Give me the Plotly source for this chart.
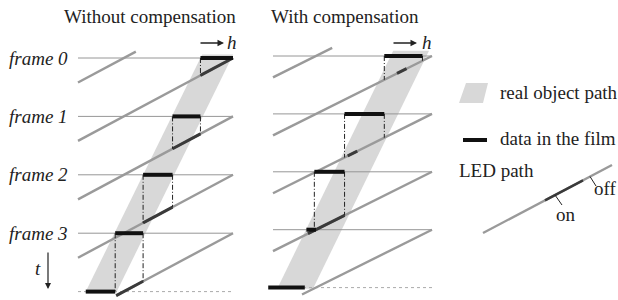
import plotly.graph_objects as go

W, H = 618, 300
SERIF = "Liberation Serif, Times New Roman, serif"

# ---------------- data ----------------
frame_times = [0, 1, 2, 3]
frame_labels = ["frame 0", "frame 1", "frame 2", "frame 3"]
bottom_time = 4
diag_ids = [-1, 0, 1, 2, 3]          # LED path sweeps start at (h=1, t=k)

panel_titles = ["Without compensation", "With compensation"]

# Left panel (without compensation), h in [0,1]
left_bar_start = [0.79, 0.61, 0.42, 0.24, 0.05]
left_bar_end = [1.00, 0.79, 0.61, 0.42, 0.24]
left_diag_drop = 1.42                 # frames travelled over one sweep
left_band_edge = [0.79, 0.05]         # band left edge at t=0 and t=4
left_band_width = 0.20
left_on_start = [0.79, 0.61, 0.42, 0.24]
left_on_end = [1.00, 0.79, 0.61, 0.42]

# Right panel (with compensation)
right_bar_start = [0.70, 0.45, 0.26, 0.21, -0.03]
right_bar_end = [0.94, 0.70, 0.45, 0.27, 0.20]
right_vert_frames = [0, 1, 2]
right_diag_drop = 1.37
right_band_edge = [0.74, 0.03]
right_band_width = 0.225
right_on_start = [0.78, 0.47, 0.22]
right_on_end = [0.84, 0.53, 0.45]

legend_labels = ["real object path", "data in the film", "LED path", "on", "off"]

# ---------------- helpers ----------------
def px(x):
    return x / W

def py(y):
    return 1 - y / H

def diag_t(k, h, drop):
    return k + drop * (1 - h)

fig = go.Figure()

GRAY_LINE = "#969696"
DIAG = "#9a9a9a"
BAND = "#d8d8d8"
DARK = "#3a3a3a"
TXT = "#222222"

def add_panel(xa, ya, bar_s, bar_e, drop, band_edge, band_w, on_s, on_e,
              vert_frames, tmin, tmax):
    # band (real object path)
    t0, t1 = tmin + 0.05, 4.02
    def edge(t):
        return band_edge[0] + (band_edge[1] - band_edge[0]) * t / 4.0
    bx = [edge(t0), edge(t0) + band_w, edge(t1) + band_w, edge(t1), edge(t0)]
    by = [t0, t0, t1, t1, t0]
    fig.add_trace(go.Scatter(x=bx, y=by, xaxis=xa, yaxis=ya, mode="lines",
                             fill="toself", fillcolor=BAND, line=dict(width=0),
                             hoverinfo="skip", showlegend=False))
    # frame lines
    for t in frame_times:
        fig.add_trace(go.Scatter(x=[0, 1], y=[t, t], xaxis=xa, yaxis=ya, mode="lines",
                                 line=dict(color=GRAY_LINE, width=1),
                                 hoverinfo="skip", showlegend=False))
    fig.add_trace(go.Scatter(x=[0, 1], y=[bottom_time, bottom_time], xaxis=xa, yaxis=ya,
                             mode="lines", line=dict(color="#aaaaaa", width=1, dash="dot"),
                             hoverinfo="skip", showlegend=False))
    # LED path sweeps
    for k in diag_ids:
        h_hi = min(1.0, 1 - (tmin - k) / drop)
        h_lo = max(0.0, 1 - (tmax - k) / drop)
        fig.add_trace(go.Scatter(x=[h_lo, h_hi], y=[diag_t(k, h_lo, drop), diag_t(k, h_hi, drop)],
                                 xaxis=xa, yaxis=ya, mode="lines",
                                 line=dict(color=DIAG, width=2.4),
                                 hoverinfo="skip", showlegend=False))
    # LED "on" parts (dark)
    for k, (s, e) in enumerate(zip(on_s, on_e)):
        s2 = max(s, 1 - (tmax - k) / drop)
        fig.add_trace(go.Scatter(x=[s2, e], y=[diag_t(k, s2, drop), diag_t(k, e, drop)],
                                 xaxis=xa, yaxis=ya, mode="lines",
                                 line=dict(color=DARK, width=3),
                                 hoverinfo="skip", showlegend=False))
    # dash-dot verticals
    for k in vert_frames:
        for h in (bar_s[k], bar_e[k]):
            tb = min(diag_t(k, h, drop), 4.0)
            fig.add_trace(go.Scatter(x=[h, h], y=[k, tb], xaxis=xa, yaxis=ya, mode="lines",
                                     line=dict(color="#222222", width=1, dash="5px,2px,1px,2px"),
                                     hoverinfo="skip", showlegend=False))
    # data bars
    for k in range(5):
        fig.add_trace(go.Scatter(x=[bar_s[k], bar_e[k]], y=[k, k], xaxis=xa, yaxis=ya,
                                 mode="lines", line=dict(color="#111111", width=4),
                                 hoverinfo="skip", showlegend=False))

add_panel("x", "y", left_bar_start, left_bar_end, left_diag_drop, left_band_edge,
          left_band_width, left_on_start, left_on_end, [0, 1, 2, 3], -0.11, 4.07)
add_panel("x2", "y2", right_bar_start, right_bar_end, right_diag_drop, right_band_edge,
          right_band_width, right_on_start, right_on_end, right_vert_frames, -0.14, 4.12)

# ---------------- annotations ----------------
def text(x, y, s, xanchor="center", italic=False, yref="paper"):
    return dict(x=px(x), y=(py(y) if yref == "paper" else y), xref="paper", yref=yref,
                text=("<i>" + s + "</i>") if italic else s, showarrow=False,
                xanchor=xanchor, yanchor="middle",
                font=dict(family=SERIF, size=19, color=TXT))

ann = []
ann.append(text(150, 16, panel_titles[0]))
ann.append(text(345, 16, panel_titles[1]))
for t, lab in zip(frame_times, frame_labels):
    ann.append(text(70, t, lab, xanchor="right", italic=True, yref="y"))
# h arrows
for x_head, x_h in ((224, 232), (417, 427)):
    ann.append(dict(x=px(x_head), y=py(43), xref="paper", yref="paper", text="",
                    showarrow=True, ax=-25, ay=0, arrowhead=2, arrowsize=1,
                    arrowwidth=1.3, arrowcolor=TXT))
    ann.append(text(x_h, 42, "h", italic=True))
# t arrow
ann.append(dict(x=px(48), y=py(289), xref="paper", yref="paper", text="",
                showarrow=True, ax=0, ay=-38, arrowhead=2, arrowsize=1,
                arrowwidth=1.2, arrowcolor=TXT))
ann.append(text(38, 268, "t", italic=True))
# legend texts
ann.append(text(498, 92, legend_labels[0], xanchor="left"))
ann.append(text(498, 138, legend_labels[1], xanchor="left"))
ann.append(text(457, 170, legend_labels[2], xanchor="left"))
ann.append(text(566, 214, legend_labels[3]))
ann.append(text(605, 188, legend_labels[4]))

shapes = []
# band swatch
shapes.append(dict(type="path", xref="paper", yref="paper",
                   path=f"M {px(459)} {py(103)} L {px(466)} {py(83)} L {px(488)} {py(83)} L {px(483)} {py(103)} Z",
                   fillcolor=BAND, line=dict(width=0)))
# data swatch
shapes.append(dict(type="line", xref="paper", yref="paper", x0=px(463), x1=px(487),
                   y0=py(140), y1=py(140), line=dict(color="#111", width=4)))
# LED path sample
shapes.append(dict(type="line", xref="paper", yref="paper", x0=px(483), x1=px(612),
                   y0=py(233), y1=py(165), line=dict(color=DIAG, width=2.4)))
shapes.append(dict(type="line", xref="paper", yref="paper", x0=px(545), x1=px(583),
                   y0=py(200.4), y1=py(180.3), line=dict(color=DARK, width=2.5)))
shapes.append(dict(type="line", xref="paper", yref="paper", x0=px(555), x1=px(562),
                   y0=py(195), y1=py(205), line=dict(color=TXT, width=1)))
shapes.append(dict(type="line", xref="paper", yref="paper", x0=px(590), x1=px(596),
                   y0=py(176.5), y1=py(186), line=dict(color=TXT, width=1)))

# axes: map h in [0,1] onto pixel spans, t onto frame rows
def xrange(x0, w):
    return [-x0 / w, (W - x0) / w]

def yrange(y0, s):
    top = -y0 / s
    return [top + H / s, top]

fig.update_layout(
    width=W, height=H, margin=dict(l=0, r=0, t=0, b=0),
    paper_bgcolor="white", plot_bgcolor="white",
    xaxis=dict(domain=[0, 1], range=xrange(78, 155), visible=False, anchor="y"),
    yaxis=dict(domain=[0, 1], range=yrange(58, 58.4), visible=False, anchor="x"),
    xaxis2=dict(domain=[0, 1], range=xrange(273, 159), visible=False, anchor="y2", overlaying="x"),
    yaxis2=dict(domain=[0, 1], range=yrange(56, 57.9), visible=False, anchor="x2", overlaying="y"),
    annotations=ann, shapes=shapes, showlegend=False,
)

fig.write_html("out.html", config={"displayModeBar": False},
               post_script="document.body.style.margin='0px';")
